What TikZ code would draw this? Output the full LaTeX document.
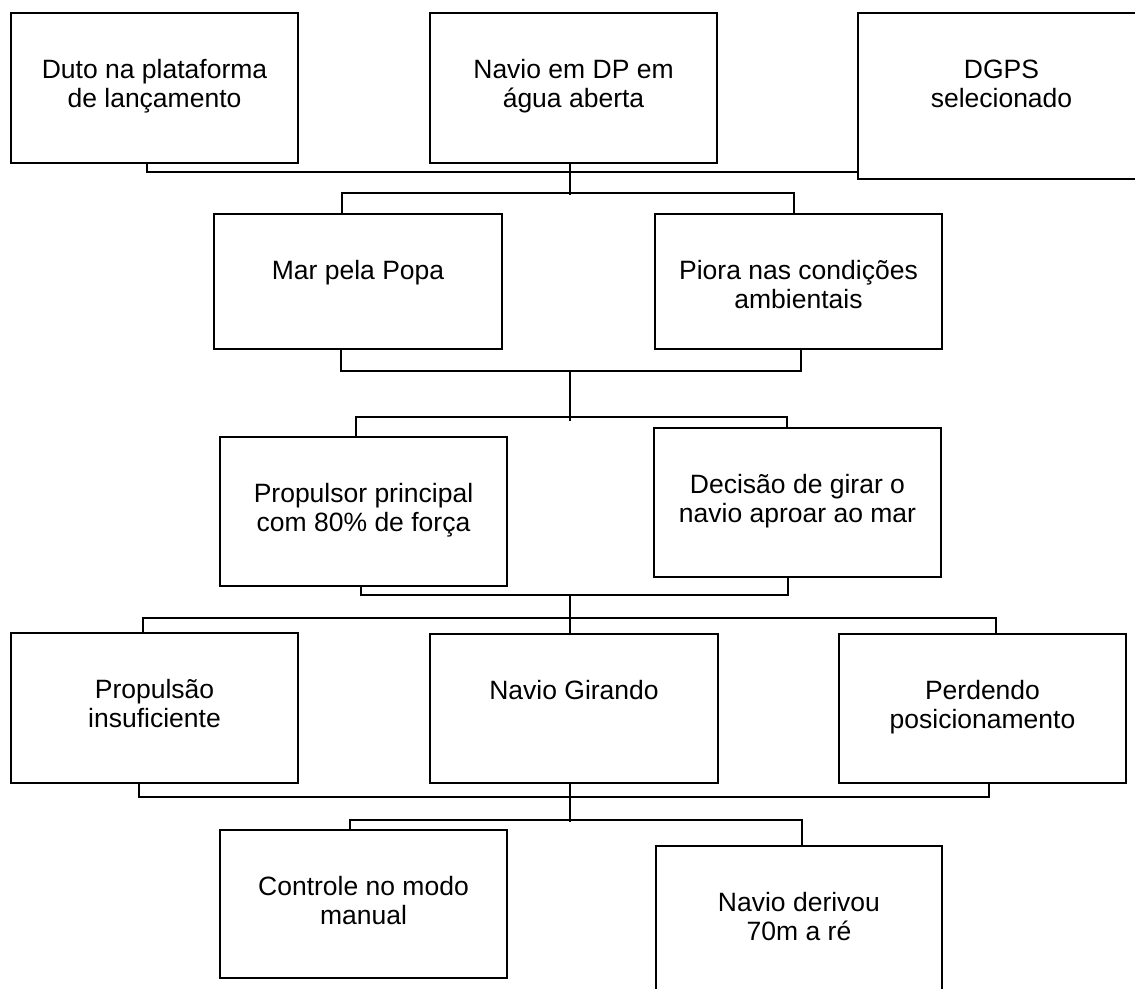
\documentclass[tikz,border=0pt]{standalone}
\usepackage{fontspec}
\setmainfont{Liberation Sans}
\newcommand{\bxt}[3]{\parbox[c][#2pt][t]{#1pt}{\centering\rule{0pt}{65pt}#3}}
\tikzset{
  evbox/.style={draw=black, line width=2pt, inner sep=0pt, outer sep=0pt, anchor=north west, fill=white,
    font=\fontsize{26.5}{29.5}\selectfont},
  bus/.style={draw=black, line width=2pt}
}
\begin{document}
\begin{tikzpicture}[x=1pt,y=-1pt]
\path[use as bounding box] (0,0) rectangle (1135,988);
\clip (0,0) rectangle (1135,988);
\fill[white] (0,0) rectangle (1135,988);

% row 1
\node[evbox] (a) at (11,13) {\bxt{287}{150}{Duto na plataforma\\de lançamento}};
\node[evbox] (b) at (430,13) {\bxt{287}{150}{Navio em DP em\\água aberta}};
\node[evbox] (c) at (858,13) {\bxt{287}{166}{DGPS\\selecionado}};
% row 2
\node[evbox] (d) at (214,214) {\bxt{288}{135}{Mar pela Popa}};
\node[evbox] (e) at (655,214) {\bxt{287}{135}{Piora nas condições\\ambientais}};
% row 3
\node[evbox] (f) at (220,437) {\bxt{287}{149}{Propulsor principal\\com 80\% de força}};
\node[evbox] (g) at (654,428) {\bxt{287}{149}{Decisão de girar o\\navio aproar ao mar}};
% row 4
\node[evbox] (h) at (11,633) {\bxt{287}{150}{Propulsão\\insuficiente}};
\node[evbox] (i) at (430,634) {\bxt{288}{149}{Navio Girando}};
\node[evbox] (j) at (839,634) {\bxt{287}{149}{Perdendo\\posicionamento}};
% row 5
\node[evbox] (k) at (220,830) {\bxt{287}{148}{Controle no modo\\manual}};
\node[evbox] (l) at (656,846) {\bxt{286}{149}{Navio derivou\\70m a ré}};

% junction coordinates
\coordinate (m1) at (570,195);
\coordinate (m2a) at (570,371);
\coordinate (m2b) at (570,421);
\coordinate (m4) at (570,822);

% bus 1: row 1 joined
\draw[bus] (a.south -| 147,0) -- (147,172) -- (c.south west |- 0,172);
\draw[bus] (b.south -| 570,0) -- (m1);
% bus 2: to row 2
\draw[bus] (d.north -| 342,0) -- (342,193) -- (794,193) -- (e.north -| 794,0);
% bus 3: row 2 joined
\draw[bus] (d.south -| 341,0) -- (341,371) -- (801,371) -- (e.south -| 801,0);
\draw[bus] (m2a) -- (m2b);
% bus 4: to row 3
\draw[bus] (f.north -| 356,0) -- (356,417) -- (787,417) -- (g.north -| 787,0);
% bus 5: row 3 joined
\draw[bus] (f.south -| 361,0) -- (361,595) -- (788,595) -- (g.south -| 788,0);
\draw[bus] (570,595) -- (i.north -| 570,0);
% bus 6: to row 4
\draw[bus] (h.north -| 143,0) -- (143,618) -- (996,618) -- (j.north -| 996,0);
% bus 7: row 4 joined
\draw[bus] (h.south -| 139,0) -- (139,797) -- (989,797) -- (j.south -| 989,0);
\draw[bus] (i.south -| 570,0) -- (m4);
% bus 8: to row 5
\draw[bus] (k.north -| 350,0) -- (350,820) -- (802,820) -- (l.north -| 802,0);
\end{tikzpicture}
\end{document}
